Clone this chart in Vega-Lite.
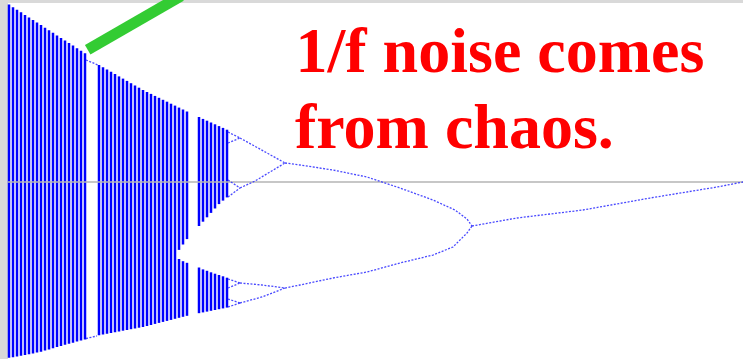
{
  "$schema": "https://vega.github.io/schema/vega-lite/v6.json",
  "autosize": {"type": "none"},
  "width": 735,
  "height": 356,
  "padding": {"left": 8, "top": 3, "right": 0, "bottom": 0},
  "background": "#d9d9d9",
  "view": {"fill": "white", "stroke": null},
  "datasets": {
    "chaos": [
      {"r": 3.998, "top": 0.9955, "bot": 0.0034},
      {"r": 3.990, "top": 0.9882, "bot": 0.0051},
      {"r": 3.982, "top": 0.9809, "bot": 0.0070},
      {"r": 3.974, "top": 0.9739, "bot": 0.0090},
      {"r": 3.966, "top": 0.9666, "bot": 0.0112},
      {"r": 3.958, "top": 0.9596, "bot": 0.0135},
      {"r": 3.950, "top": 0.9522, "bot": 0.0157},
      {"r": 3.942, "top": 0.9449, "bot": 0.0180},
      {"r": 3.934, "top": 0.9379, "bot": 0.0205},
      {"r": 3.926, "top": 0.9306, "bot": 0.0239},
      {"r": 3.918, "top": 0.9236, "bot": 0.0270},
      {"r": 3.910, "top": 0.9163, "bot": 0.0303},
      {"r": 3.902, "top": 0.9090, "bot": 0.0337},
      {"r": 3.894, "top": 0.9020, "bot": 0.0368},
      {"r": 3.886, "top": 0.8947, "bot": 0.0399},
      {"r": 3.878, "top": 0.8876, "bot": 0.0427},
      {"r": 3.870, "top": 0.8803, "bot": 0.0458},
      {"r": 3.862, "top": 0.8730, "bot": 0.0489},
      {"r": 3.854, "top": 0.8660, "bot": 0.0520},
      {"r": 3.846, "top": 0.8587, "bot": 0.0551},
      {"r": 3.818, "top": 0.8258, "bot": 0.0669},
      {"r": 3.810, "top": 0.8194, "bot": 0.0691},
      {"r": 3.802, "top": 0.8132, "bot": 0.0711},
      {"r": 3.794, "top": 0.8067, "bot": 0.0733},
      {"r": 3.786, "top": 0.8003, "bot": 0.0753},
      {"r": 3.778, "top": 0.7938, "bot": 0.0772},
      {"r": 3.770, "top": 0.7876, "bot": 0.0795},
      {"r": 3.762, "top": 0.7812, "bot": 0.0815},
      {"r": 3.754, "top": 0.7747, "bot": 0.0837},
      {"r": 3.746, "top": 0.7683, "bot": 0.0857},
      {"r": 3.738, "top": 0.7621, "bot": 0.0879},
      {"r": 3.730, "top": 0.7556, "bot": 0.0899},
      {"r": 3.722, "top": 0.7500, "bot": 0.0927},
      {"r": 3.714, "top": 0.7447, "bot": 0.0955},
      {"r": 3.706, "top": 0.7390, "bot": 0.0986},
      {"r": 3.698, "top": 0.7337, "bot": 0.1014},
      {"r": 3.690, "top": 0.7281, "bot": 0.1042},
      {"r": 3.682, "top": 0.7228, "bot": 0.1070},
      {"r": 3.674, "top": 0.7171, "bot": 0.1098},
      {"r": 3.666, "top": 0.7118, "bot": 0.1129},
      {"r": 3.658, "top": 0.7062, "bot": 0.3065},
      {"r": 3.658, "top": 0.2809, "bot": 0.1157},
      {"r": 3.650, "top": 0.7008, "bot": 0.3216},
      {"r": 3.650, "top": 0.2747, "bot": 0.1185},
      {"r": 3.642, "top": 0.6952, "bot": 0.3368},
      {"r": 3.642, "top": 0.2702, "bot": 0.1213},
      {"r": 3.618, "top": 0.6798, "bot": 0.3736},
      {"r": 3.618, "top": 0.2570, "bot": 0.1287},
      {"r": 3.610, "top": 0.6744, "bot": 0.3857},
      {"r": 3.610, "top": 0.2517, "bot": 0.1309},
      {"r": 3.602, "top": 0.6694, "bot": 0.3980},
      {"r": 3.602, "top": 0.2478, "bot": 0.1331},
      {"r": 3.594, "top": 0.6643, "bot": 0.4104},
      {"r": 3.594, "top": 0.2435, "bot": 0.1354},
      {"r": 3.586, "top": 0.6593, "bot": 0.4228},
      {"r": 3.586, "top": 0.2396, "bot": 0.1376},
      {"r": 3.578, "top": 0.6542, "bot": 0.4351},
      {"r": 3.578, "top": 0.2360, "bot": 0.1399},
      {"r": 3.570, "top": 0.6492, "bot": 0.4449},
      {"r": 3.570, "top": 0.2323, "bot": 0.1421},
      {"r": 3.562, "top": 0.6441, "bot": 0.4539},
      {"r": 3.562, "top": 0.2284, "bot": 0.1444}
    ],
    "orbits": [
      {"branch": "p1", "r": 3.072, "x": 0.3736},
      {"branch": "p1", "r": 2.982, "x": 0.3961},
      {"branch": "p1", "r": 2.850, "x": 0.4185},
      {"branch": "p1", "r": 2.716, "x": 0.4522},
      {"branch": "p1", "r": 2.582, "x": 0.4831},
      {"branch": "p1", "r": 2.530, "x": 0.4972},
      {"branch": "p2a", "r": 3.072, "x": 0.3736},
      {"branch": "p2a", "r": 3.082, "x": 0.3933},
      {"branch": "p2a", "r": 3.106, "x": 0.4185},
      {"branch": "p2a", "r": 3.150, "x": 0.4466},
      {"branch": "p2a", "r": 3.216, "x": 0.4803},
      {"branch": "p2a", "r": 3.282, "x": 0.5112},
      {"branch": "p2a", "r": 3.350, "x": 0.5309},
      {"branch": "p2a", "r": 3.416, "x": 0.5449},
      {"branch": "p2a", "r": 3.446, "x": 0.5506},
      {"branch": "p2b", "r": 3.072, "x": 0.3736},
      {"branch": "p2b", "r": 3.082, "x": 0.3539},
      {"branch": "p2b", "r": 3.110, "x": 0.3146},
      {"branch": "p2b", "r": 3.150, "x": 0.2921},
      {"branch": "p2b", "r": 3.216, "x": 0.2697},
      {"branch": "p2b", "r": 3.282, "x": 0.2444},
      {"branch": "p2b", "r": 3.350, "x": 0.2275},
      {"branch": "p2b", "r": 3.416, "x": 0.2079},
      {"branch": "p2b", "r": 3.446, "x": 0.1994},
      {"branch": "p4a", "r": 3.446, "x": 0.5506},
      {"branch": "p4a", "r": 3.482, "x": 0.5787},
      {"branch": "p4a", "r": 3.536, "x": 0.6208},
      {"branch": "p8a1", "r": 3.536, "x": 0.6208},
      {"branch": "p8a1", "r": 3.560, "x": 0.6376},
      {"branch": "p8a2", "r": 3.536, "x": 0.6208},
      {"branch": "p8a2", "r": 3.560, "x": 0.6067},
      {"branch": "p4b", "r": 3.446, "x": 0.5506},
      {"branch": "p4b", "r": 3.476, "x": 0.5253},
      {"branch": "p4b", "r": 3.506, "x": 0.5000},
      {"branch": "p4b", "r": 3.536, "x": 0.4803},
      {"branch": "p8b1", "r": 3.536, "x": 0.4803},
      {"branch": "p8b1", "r": 3.560, "x": 0.5028},
      {"branch": "p8b2", "r": 3.536, "x": 0.4803},
      {"branch": "p8b2", "r": 3.560, "x": 0.4551},
      {"branch": "p4c", "r": 3.446, "x": 0.1994},
      {"branch": "p4c", "r": 3.492, "x": 0.2079},
      {"branch": "p4c", "r": 3.536, "x": 0.2135},
      {"branch": "p8c1", "r": 3.536, "x": 0.2135},
      {"branch": "p8c1", "r": 3.560, "x": 0.2247},
      {"branch": "p8c2", "r": 3.536, "x": 0.2135},
      {"branch": "p8c2", "r": 3.560, "x": 0.1994},
      {"branch": "p4d", "r": 3.446, "x": 0.1994},
      {"branch": "p4d", "r": 3.492, "x": 0.1742},
      {"branch": "p4d", "r": 3.536, "x": 0.1573},
      {"branch": "p8d1", "r": 3.536, "x": 0.1573},
      {"branch": "p8d1", "r": 3.560, "x": 0.1685},
      {"branch": "p8d2", "r": 3.536, "x": 0.1573},
      {"branch": "p8d2", "r": 3.560, "x": 0.1461},
      {"branch": "w3a", "r": 3.844, "x": 0.8399},
      {"branch": "w3a", "r": 3.820, "x": 0.8258},
      {"branch": "w3b", "r": 3.844, "x": 0.0576},
      {"branch": "w3b", "r": 3.822, "x": 0.0646}
    ],
    "baseline": [
      {"r": 4.0, "x": 0.4972},
      {"r": 2.53, "x": 0.4972}
    ],
    "pointer": [
      {"r": 3.8406, "x": 0.8685},
      {"r": 3.654, "x": 1.0197}
    ],
    "caption": [
      {"r": 3.425, "x": 0.8062, "label": "1/f noise comes"},
      {"r": 3.426, "x": 0.5927, "label": "from chaos."}
    ]
  },
  "encoding": {
    "x": {
      "field": "r",
      "type": "quantitative",
      "scale": {"domain": [2.53, 4.0], "reverse": true, "nice": false, "zero": false},
      "axis": null
    },
    "y": {
      "field": "x",
      "type": "quantitative",
      "scale": {"domain": [0, 1], "nice": false, "zero": false},
      "axis": null
    }
  },
  "layer": [
    {
      "data": {"name": "chaos"},
      "mark": {"type": "rule", "color": "#0000ff", "strokeWidth": 2.5, "strokeCap": "butt"},
      "encoding": {
        "y": {"field": "top", "type": "quantitative"},
        "y2": {"field": "bot"}
      }
    },
    {
      "data": {"name": "baseline"},
      "mark": {"type": "line", "color": "#b5b5b5", "strokeWidth": 1.6},
      "encoding": {}
    },
    {
      "data": {"name": "orbits"},
      "mark": {"type": "line", "color": "#3535ff", "strokeWidth": 1.3, "strokeDash": [2, 1.5], "opacity": 0.9},
      "encoding": {"detail": {"field": "branch"}}
    },
    {
      "data": {"name": "pointer"},
      "mark": {"type": "line", "color": "#33cc33", "strokeWidth": 11, "strokeCap": "butt"},
      "encoding": {}
    },
    {
      "data": {"name": "caption"},
      "mark": {
        "type": "text",
        "align": "left",
        "baseline": "alphabetic",
        "font": "Liberation Serif",
        "fontWeight": "bold",
        "fontSize": 64,
        "color": "#ff0000"
      },
      "encoding": {"text": {"field": "label"}}
    }
  ]
}
